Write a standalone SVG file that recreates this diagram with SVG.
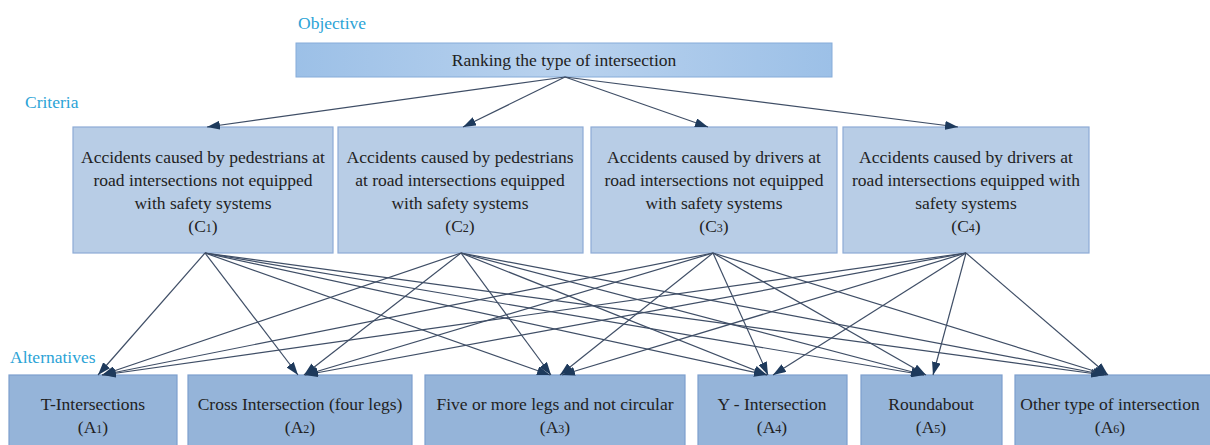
<svg xmlns="http://www.w3.org/2000/svg" width="1210" height="445" viewBox="0 0 1210 445">
<style>
.lbl{font-family:"Liberation Serif","Times New Roman",serif;font-size:17.5px;fill:#2ba3d6}
.t{font-family:"Liberation Serif","Times New Roman",serif;font-size:17.5px;fill:#222;text-anchor:middle}
.sub{font-size:12px}
.crit{fill:#b8cde6;stroke:#8dabd6;stroke-width:1.2}
.alt{fill:#95b4d9;stroke:#7d9fce;stroke-width:1.2}
.obj{fill:url(#og);stroke:#86acd9;stroke-width:1}
.c{stroke:#3f4e66;stroke-width:1.2;fill:none;marker-end:url(#ah)}
</style>
<defs>
<linearGradient id="og" x1="0" y1="0" x2="1" y2="0">
<stop offset="0" stop-color="#9cc0e7"/>
<stop offset="0.5" stop-color="#b9d2ee"/>
<stop offset="1" stop-color="#9cc0e7"/>
</linearGradient>
<marker id="ah" viewBox="0 0 13 9" refX="13" refY="4.5" markerWidth="13" markerHeight="9" markerUnits="userSpaceOnUse" orient="auto">
<path d="M0,0 L13,4.5 L0,9 Z" fill="#1e3a5c"/>
</marker>
</defs>
<rect width="1210" height="445" fill="#fff"/>
<text class="lbl" x="298" y="29">Objective</text>
<text class="lbl" x="25" y="108">Criteria</text>
<text class="lbl" x="10" y="363">Alternatives</text>
<g id="objective">
<rect class="obj" x="296" y="43" width="536" height="34"/>
<text class="t" x="564" y="66">Ranking the type of intersection</text>
</g>
<g id="C1">
<rect class="crit" x="73" y="127" width="260" height="126"/>
<text class="t" x="203" y="163">Accidents caused by pedestrians at</text>
<text class="t" x="203" y="186">road intersections not equipped</text>
<text class="t" x="203" y="209">with safety systems</text>
<text class="t" x="203" y="232">(C<tspan class="sub">1</tspan>)</text>
</g>
<g id="C2">
<rect class="crit" x="338" y="127" width="245" height="126"/>
<text class="t" x="460" y="163">Accidents caused by pedestrians</text>
<text class="t" x="460" y="186">at road intersections equipped</text>
<text class="t" x="460" y="209">with safety systems</text>
<text class="t" x="460" y="232">(C<tspan class="sub">2</tspan>)</text>
</g>
<g id="C3">
<rect class="crit" x="591" y="127" width="246" height="126"/>
<text class="t" x="714" y="163">Accidents caused by drivers at</text>
<text class="t" x="714" y="186">road intersections not equipped</text>
<text class="t" x="714" y="209">with safety systems</text>
<text class="t" x="714" y="232">(C<tspan class="sub">3</tspan>)</text>
</g>
<g id="C4">
<rect class="crit" x="843" y="127" width="246" height="126"/>
<text class="t" x="966" y="163">Accidents caused by drivers at</text>
<text class="t" x="966" y="186">road intersections equipped with</text>
<text class="t" x="966" y="209">safety systems</text>
<text class="t" x="966" y="232">(C<tspan class="sub">4</tspan>)</text>
</g>
<g id="A1">
<rect class="alt" x="9" y="375" width="168" height="80"/>
<text class="t" x="93" y="410">T-Intersections</text>
<text class="t" x="93" y="433">(A<tspan class="sub">1</tspan>)</text>
</g>
<g id="A2">
<rect class="alt" x="188" y="375" width="224" height="80"/>
<text class="t" x="300" y="410">Cross Intersection (four legs)</text>
<text class="t" x="300" y="433">(A<tspan class="sub">2</tspan>)</text>
</g>
<g id="A3">
<rect class="alt" x="425" y="375" width="260" height="80"/>
<text class="t" x="555" y="410">Five or more legs and not circular</text>
<text class="t" x="555" y="433">(A<tspan class="sub">3</tspan>)</text>
</g>
<g id="A4">
<rect class="alt" x="698" y="375" width="149" height="80"/>
<text class="t" x="772" y="410">Y - Intersection</text>
<text class="t" x="772" y="433">(A<tspan class="sub">4</tspan>)</text>
</g>
<g id="A5">
<rect class="alt" x="861" y="375" width="141" height="80"/>
<text class="t" x="931" y="410">Roundabout</text>
<text class="t" x="931" y="433">(A<tspan class="sub">5</tspan>)</text>
</g>
<g id="A6">
<rect class="alt" x="1015" y="375" width="200" height="80"/>
<text class="t" x="1110" y="410">Other type of intersection</text>
<text class="t" x="1110" y="433">(A<tspan class="sub">6</tspan>)</text>
</g>
<g id="connectors">
<line class="c" x1="565" y1="77" x2="207" y2="127"/>
<line class="c" x1="565" y1="77" x2="463" y2="127"/>
<line class="c" x1="565" y1="77" x2="708" y2="127"/>
<line class="c" x1="565" y1="77" x2="958" y2="127"/>

<line class="c" x1="205" y1="253" x2="98" y2="375"/>
<line class="c" x1="205" y1="253" x2="298" y2="375"/>
<line class="c" x1="205" y1="253" x2="550" y2="375"/>
<line class="c" x1="205" y1="253" x2="767" y2="375"/>
<line class="c" x1="205" y1="253" x2="924" y2="375"/>
<line class="c" x1="205" y1="253" x2="1104" y2="375"/>

<line class="c" x1="461" y1="253" x2="102" y2="375"/>
<line class="c" x1="461" y1="253" x2="304" y2="375"/>
<line class="c" x1="461" y1="253" x2="551" y2="375"/>
<line class="c" x1="461" y1="253" x2="767" y2="375"/>
<line class="c" x1="461" y1="253" x2="924" y2="375"/>
<line class="c" x1="461" y1="253" x2="1106" y2="375"/>

<line class="c" x1="713" y1="253" x2="102" y2="375"/>
<line class="c" x1="713" y1="253" x2="305" y2="375"/>
<line class="c" x1="713" y1="253" x2="560" y2="375"/>
<line class="c" x1="713" y1="253" x2="768" y2="375"/>
<line class="c" x1="713" y1="253" x2="926" y2="375"/>
<line class="c" x1="713" y1="253" x2="1107" y2="375"/>

<line class="c" x1="966" y1="253" x2="103" y2="375"/>
<line class="c" x1="966" y1="253" x2="305" y2="375"/>
<line class="c" x1="966" y1="253" x2="562" y2="375"/>
<line class="c" x1="966" y1="253" x2="773" y2="375"/>
<line class="c" x1="966" y1="253" x2="933" y2="375"/>
<line class="c" x1="966" y1="253" x2="1108" y2="375"/>
</g>
</svg>
